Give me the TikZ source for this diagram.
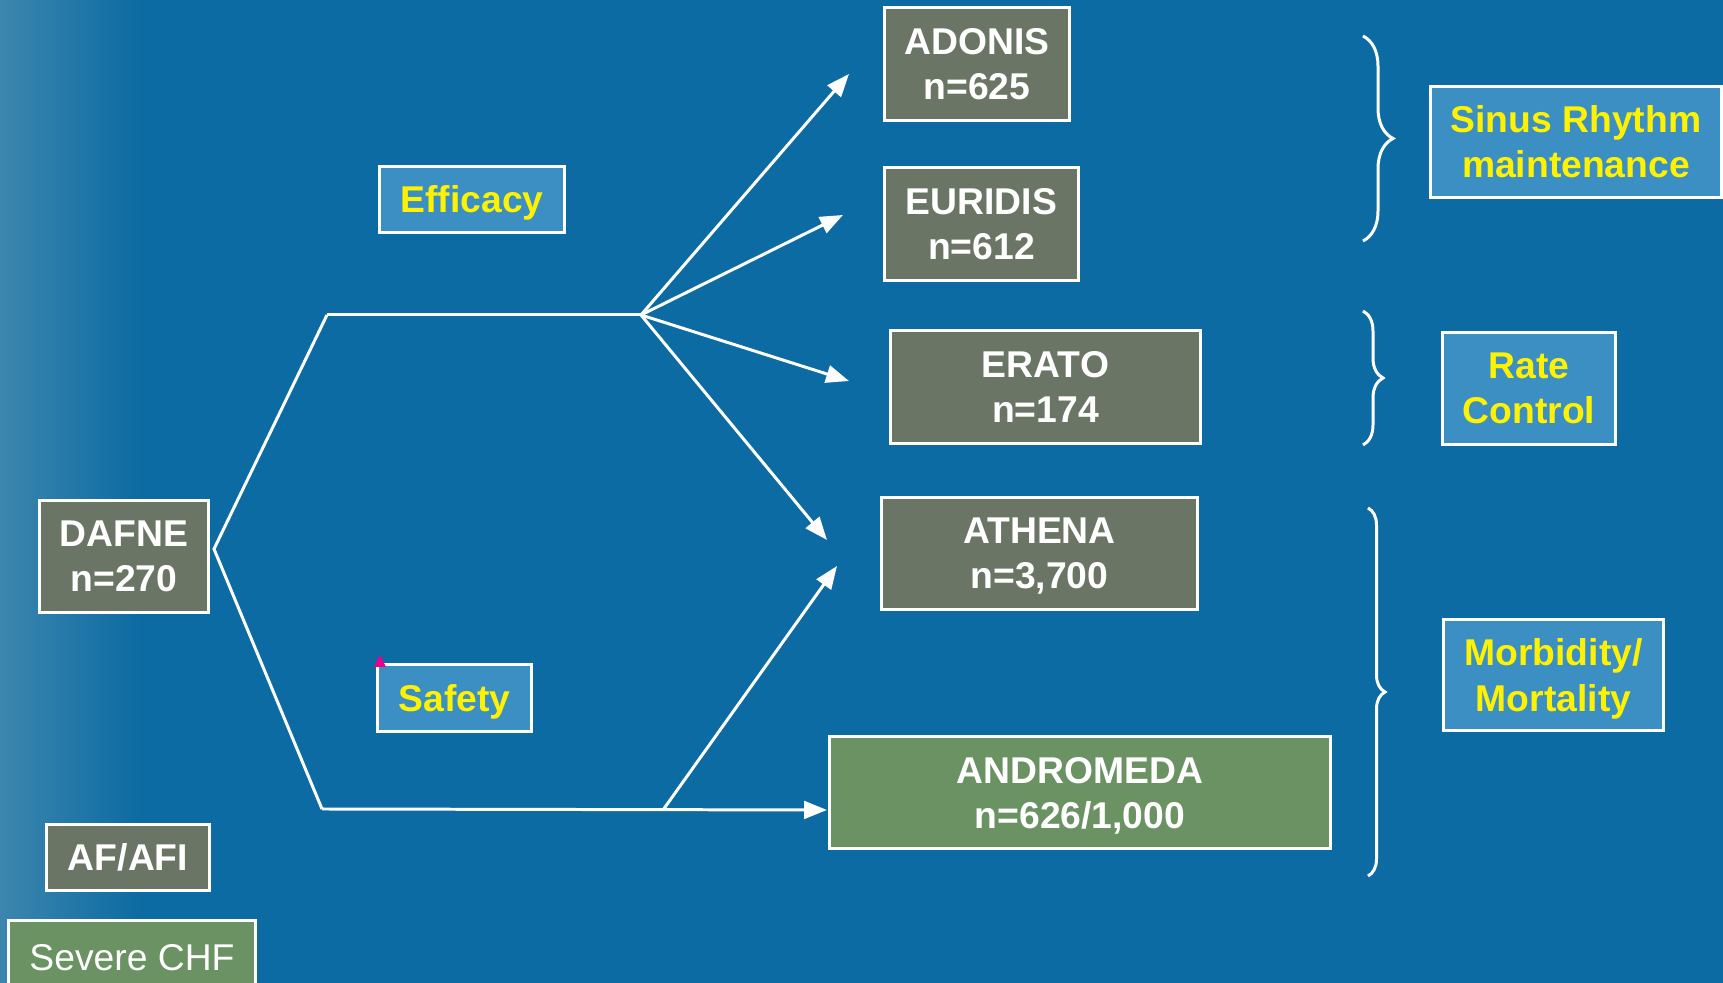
\documentclass[tikz,border=0pt]{standalone}
\usepackage{fontspec}
\setmainfont{Liberation Sans}
\usetikzlibrary{arrows.meta,decorations.pathreplacing}

\definecolor{bgblue}{HTML}{0C6BA2}
\definecolor{edgeblue}{HTML}{3C86AE}
\definecolor{trialgrey}{HTML}{6B7565}
\definecolor{trialgreen}{HTML}{6A9262}
\definecolor{aimblue}{HTML}{3B8FC2}

\begin{document}
\begin{tikzpicture}[x=0.01cm, y=-0.01cm,
  box/.style={draw=white, line width=0.85pt, inner sep=0pt, align=center, text depth=0pt,
    font=\fontsize{10.6}{12.8}\selectfont\bfseries},
  trial/.style={box, fill=trialgrey, text=white},
  aim/.style={box, fill=aimblue, text=yellow},
  link/.style={draw=white, line width=0.85pt},
  arr/.style={link, -{Triangle[length=6.5pt,width=5pt]}},
  curly/.style={draw=white, line width=0.85pt, decorate,
    decoration={brace, amplitude=#1}}]
  \useasboundingbox (0,0) rectangle (1723,983);
  \clip (0,0) rectangle (1723,983);
  \fill[bgblue] (0,0) rectangle (1723,983);
  \shade[left color=edgeblue, right color=bgblue] (0,0) rectangle (140,983);

  \node[trial, minimum width=1.84cm, minimum height=1.12cm] (adonis) at (977,64) {ADONIS\\n=625};
  \node[trial, minimum width=1.93cm, minimum height=1.12cm] (euridis) at (981.5,224) {EURIDIS\\n=612};
  \node[trial, minimum width=3.09cm, minimum height=1.12cm] (erato) at (1045.5,387) {ERATO\\n=174};
  \node[trial, minimum width=3.15cm, minimum height=1.11cm] (athena) at (1039.5,553.5) {ATHENA\\n=3,700};
  \node[trial, fill=trialgreen, minimum width=5cm, minimum height=1.11cm] (andromeda) at (1080,792.5) {ANDROMEDA\\n=626/1,000};
  \node[trial, minimum width=1.68cm, minimum height=1.11cm] (dafne) at (124,556.5) {DAFNE\\n=270};
  \node[trial, minimum width=1.62cm, minimum height=0.65cm] (afafi) at (128,857.5) {AF/AFI};
  \node[trial, fill=trialgreen, minimum width=2.46cm, minimum height=0.9cm, font=\fontsize{10.6}{12.8}\selectfont]
    (chf) at (132,966) {\raisebox{4.6pt}{Severe CHF}};

  \node[aim, minimum width=1.84cm, minimum height=0.65cm] (efficacy) at (472,199.5) {Efficacy};
  \node[aim, minimum width=1.53cm, minimum height=0.66cm] (safety) at (454.5,698) {Safety};
  \node[aim, minimum width=2.9cm, minimum height=1.1cm] (sinus) at (1576,142) {Sinus Rhythm\\maintenance};
  \node[aim, minimum width=1.72cm, minimum height=1.11cm] (rate) at (1529,388.5) {Rate\\Control};
  \node[aim, minimum width=2.19cm, minimum height=1.1cm] (morbid) at (1553.5,675) {Morbidity/\\Mortality};
  \fill[magenta] (380,655) -- (386,667) -- (374,667) -- cycle;

  \coordinate (split) at (214,549);
  \coordinate (up) at (327,315);
  \coordinate (upfork) at (641,315);
  \coordinate (low) at (322,809);
  \coordinate (lowfork) at (663,810);
  \coordinate (toadonis) at (849,74);
  \coordinate (toeuridis) at (843,215);
  \coordinate (toerato) at (849,381);
  \coordinate (toathena) at (827,540);
  \coordinate (fromlow) at (837,566);
  \coordinate (toandromeda) at (827,810);

  \draw[link] (up) -- (split) -- (low);
  \draw[link] (up) -- (upfork);
  \draw[arr] (upfork) -- (toadonis);
  \draw[arr] (upfork) -- (toeuridis);
  \draw[arr] (upfork) -- (toerato);
  \draw[arr] (upfork) -- (toathena);
  \draw[arr] (low) -- (toandromeda);
  \draw[arr] (lowfork) -- (fromlow);

  \draw[curly=0.3cm] (1363,36) -- (1363,241);
  \draw[curly=0.2cm] (1363,311) -- (1363,445);
  \draw[curly=0.17cm] (1368,508) -- (1368,876);
\end{tikzpicture}
\end{document}
